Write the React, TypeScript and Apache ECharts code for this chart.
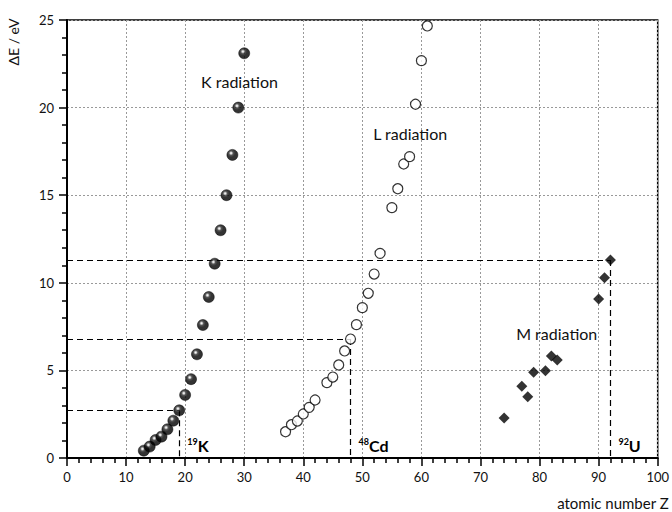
import React, { useEffect, useRef } from "react";
import * as echarts from "echarts";

// K-shell series (atomic number, energy in eV)
const kZ = [13, 14, 15, 16, 17, 18, 19, 20, 21, 22, 23, 24, 25, 26, 27, 28, 29, 30];
const kE = [0.42, 0.65, 1.03, 1.22, 1.64, 2.13, 2.72, 3.6, 4.5, 5.92, 7.59, 9.19, 11.09, 13.0, 15.0, 17.3, 20.0, 23.1];

// L-shell series
const lZ = [37, 38, 39, 40, 41, 42, 44, 45, 46, 47, 48, 49, 50, 51, 52, 53, 55, 56, 57, 58, 59, 60, 61];
const lE = [1.5, 1.9, 2.11, 2.51, 2.89, 3.31, 4.3, 4.62, 5.31, 6.11, 6.79, 7.61, 8.58, 9.4, 10.5, 11.68, 14.29, 15.37, 16.78, 17.2, 20.19, 22.68, 24.66];

// M-shell series
const mZ = [74, 77, 78, 79, 81, 82, 83, 90, 91, 92];
const mE = [2.28, 4.09, 3.5, 4.89, 4.98, 5.82, 5.59, 9.07, 10.29, 11.3];

// Highlighted elements: symbol, atomic number
const marked = [
  { sym: "K", z: 19, zs: kZ, es: kE },
  { sym: "Cd", z: 48, zs: lZ, es: lE },
  { sym: "U", z: 92, zs: mZ, es: mE },
];

// Series captions: text, Z, energy
const captions = [
  { text: "K radiation", z: 29.2, e: 21.5 },
  { text: "L radiation", z: 58.1, e: 18.55 },
  { text: "M radiation", z: 82.9, e: 7.12 },
];

const FONT = "Lato, 'Open Sans', sans-serif";

const pairs = (zs: number[], es: number[]) => zs.map((z, i) => [z, es[i]]);

export default function App() {
  const ref = useRef<HTMLDivElement>(null);

  useEffect(() => {
    if (!ref.current) return;
    const chart = echarts.init(ref.current, null, { renderer: "svg" });

    const dash = { type: [6, 4] as any, color: "#000", width: 1.2 };

    const guideLines = marked.map((m) => {
      const e = m.es[m.zs.indexOf(m.z)];
      return [
        [{ coord: [0, e] }, { coord: [m.z, e] }],
        [{ coord: [m.z, e] }, { coord: [m.z, 0] }],
      ];
    }).flat();

    const elementLabels = marked.map((m) => ({
      coord: [m.z, 0],
      value: m.sym,
      symbol: "circle",
      symbolSize: 0,
      label: {
        show: true,
        position: "right",
        offset: [3, -13],
        formatter: `{sup|${m.z}}{el|${m.sym}}`,
        rich: {
          sup: { fontSize: 9, fontWeight: "bold", fontFamily: FONT, color: "#000", verticalAlign: "top", padding: [0, 0, 6, 0] },
          el: { fontSize: 16, fontWeight: "bold", fontFamily: FONT, color: "#000" },
        },
      },
    }));

    const captionPoints = captions.map((c) => ({
      coord: [c.z, c.e],
      symbol: "circle",
      symbolSize: 0,
      label: {
        show: true,
        position: "inside",
        formatter: c.text,
        fontSize: 16,
        fontFamily: FONT,
        color: "#111",
      },
    }));

    // glossy black ball
    const sphere = {
      type: "radial",
      x: 0.38,
      y: 0.34,
      r: 0.62,
      colorStops: [
        { offset: 0, color: "#ffffff" },
        { offset: 0.12, color: "#d0d0d0" },
        { offset: 0.32, color: "#2a2a2a" },
        { offset: 0.6, color: "#000000" },
        { offset: 1, color: "#000000" },
      ],
    };

    chart.setOption({
      animation: false,
      grid: {
        left: 67,
        right: 12,
        top: 20,
        bottom: 54,
        show: true,
        borderColor: "#000",
        borderWidth: 1.5,
        backgroundColor: "transparent",
      },
      xAxis: {
        type: "value",
        min: 0,
        max: 100,
        interval: 10,
        axisLine: { show: true, onZero: false, lineStyle: { color: "#000", width: 2 } },
        axisTick: { show: true, inside: false, length: 8, lineStyle: { color: "#000", width: 1.5 } },
        minorTick: { show: true, splitNumber: 5, length: 5, lineStyle: { color: "#000", width: 1.5 } },
        axisLabel: { color: "#111", fontSize: 13, fontFamily: FONT, margin: 12 },
        splitLine: { show: true, lineStyle: { color: "#999", type: [2, 2], width: 1 } },
      },
      yAxis: {
        type: "value",
        min: 0,
        max: 25,
        interval: 5,
        axisLine: { show: true, onZero: false, lineStyle: { color: "#000", width: 2 } },
        axisTick: { show: true, inside: false, length: 8, lineStyle: { color: "#000", width: 1.5 } },
        minorTick: { show: true, splitNumber: 5, length: 5, lineStyle: { color: "#000", width: 1.5 } },
        axisLabel: { color: "#111", fontSize: 13, fontFamily: FONT, margin: 13 },
        splitLine: { show: true, lineStyle: { color: "#999", type: [2, 2], width: 1 } },
      },
      graphic: [
        {
          type: "text",
          x: 13,
          y: 42,
          rotation: Math.PI / 2,
          style: {
            text: "ΔE / eV",
            fontSize: 14,
            fontFamily: FONT,
            fill: "#111",
            align: "center",
            verticalAlign: "middle",
          },
        },
        {
          type: "text",
          right: 3,
          top: 495,
          style: { text: "atomic number Z", fontSize: 15, fontFamily: FONT, fill: "#111" },
        },
      ],
      series: [
        {
          name: "guides",
          type: "scatter",
          data: [],
          silent: true,
          markLine: {
            silent: true,
            symbol: ["none", "none"],
            lineStyle: dash,
            label: { show: false },
            data: guideLines,
          },
          markPoint: { silent: true, data: [...elementLabels, ...captionPoints] },
        },
        {
          name: "K radiation",
          type: "scatter",
          data: pairs(kZ, kE),
          symbol: "circle",
          symbolSize: 11,
          itemStyle: { color: sphere as any, borderColor: "#000", borderWidth: 0.6 },
          z: 5,
        },
        {
          name: "L radiation",
          type: "scatter",
          data: pairs(lZ, lE),
          symbol: "circle",
          symbolSize: 10,
          itemStyle: { color: "#fff", borderColor: "#000", borderWidth: 1.2 },
          z: 5,
        },
        {
          name: "M radiation",
          type: "scatter",
          data: pairs(mZ, mE),
          symbol: "diamond",
          symbolSize: [11, 11],
          itemStyle: { color: "#000" },
          z: 5,
        },
      ],
    });

    return () => chart.dispose();
  }, []);

  return <div ref={ref} style={{ width: 672, height: 512, position: "absolute", left: 0, top: 0 }} />;
}
